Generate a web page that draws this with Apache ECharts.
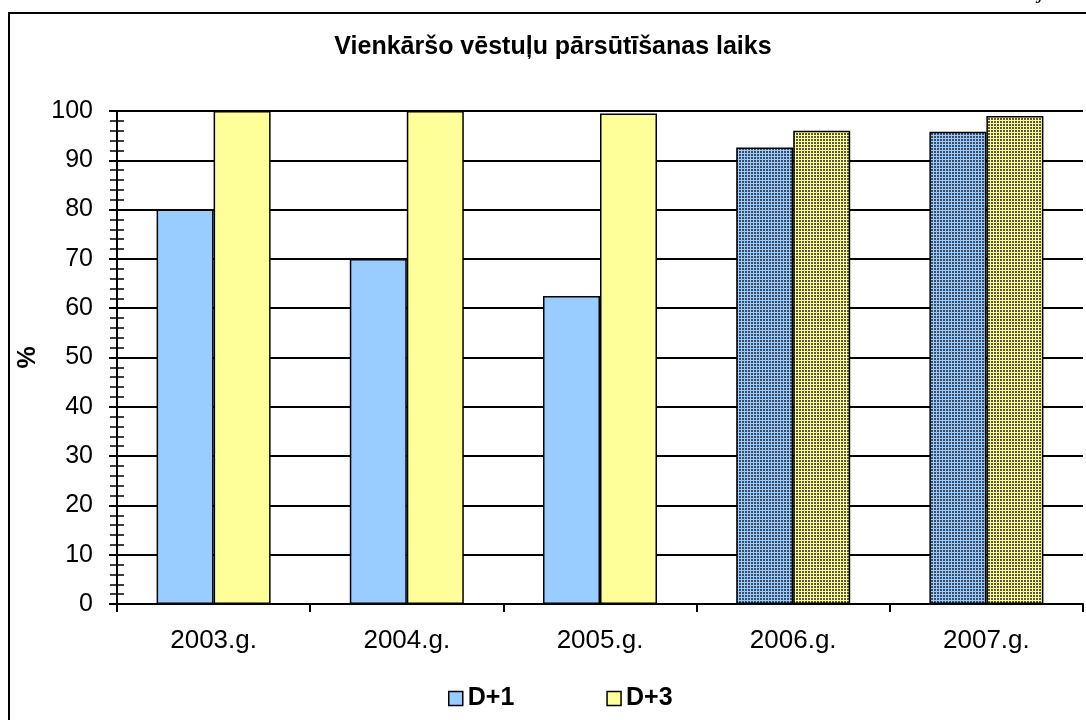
<!DOCTYPE html>
<html><head><meta charset="utf-8">
<script src="https://cdn.jsdelivr.net/npm/echarts@6/dist/echarts.min.js"></script>
<style>html,body{margin:0;padding:0;background:#fff}#c{width:1086px;height:720px}</style>
</head><body><div id="c"></div>
<script>
const categories = ['2003.g.', '2004.g.', '2005.g.', '2006.g.', '2007.g.'];
const seriesNames = ['D+1', 'D+3'];
const valuesD1 = [80, 70, 62.5, 92.6, 95.8];
const valuesD3 = [100, 100, 99.5, 96, 99];
const titleText = 'Vienkāršo vēstuļu pārsūtīšanas laiks';
const yName = '%';

function pattern(base, dot) {
  const c = document.createElement('canvas');
  c.width = 3; c.height = 3;
  const g = c.getContext('2d');
  g.fillStyle = base; g.fillRect(0, 0, 3, 3);
  g.fillStyle = dot; g.fillRect(1, 1, 2, 2);
  return { image: c, repeat: 'repeat' };
}
const blue = '#99CCFF', yellow = '#FFFF99';
const bluePat = pattern(blue, '#3c4a66');
const yellowPat = pattern(yellow, '#5a5a3a');
const patternFrom = 3;

function build(vals, base, pat) {
  return vals.map((v, i) => ({ value: v, itemStyle: { color: i >= patternFrom ? pat : base } }));
}

const FF = 'Liberation Sans, Arial, sans-serif';
const chart = echarts.init(document.getElementById('c'), null, { renderer: 'canvas' });
chart.setOption({
  animation: false,
  backgroundColor: '#fff',
  title: {
    text: titleText, left: 548, top: 30, textAlign: 'center',
    textStyle: { fontFamily: FF, fontSize: 25, fontWeight: 'bold', color: '#000' }
  },
  graphic: [
    { type: 'rect', shape: { x: 9, y: 13, width: 1100, height: 800 }, style: { fill: 'none', stroke: '#000', lineWidth: 2 }, silent: true, z: -1 },
    { type: 'text', x: 1038, y: -19, style: { text: 'j', font: 'italic 22px Liberation Serif', fill: '#000' }, silent: true }
  ],
  legend: {
    bottom: 4, left: 443, itemGap: 92, itemWidth: 14, itemHeight: 14,
    icon: 'rect',
    itemStyle: { borderColor: '#000', borderWidth: 1.5 },
    textStyle: { fontFamily: FF, fontSize: 25, fontWeight: 'bold', color: '#000' },
    data: seriesNames
  },
  grid: { left: 117, right: 3, top: 111, bottom: 116, containLabel: false },
  xAxis: {
    type: 'category', data: categories,
    axisLine: { lineStyle: { color: '#000', width: 2 } },
    axisTick: { show: true, length: 8, lineStyle: { color: '#000', width: 2 } },
    axisLabel: { margin: 24, fontFamily: FF, fontSize: 26, color: '#000' }
  },
  yAxis: [{
    type: 'value', min: 0, max: 100, interval: 10,
    name: yName, nameLocation: 'middle', nameRotate: 90, nameGap: 68,
    nameTextStyle: { fontFamily: FF, fontSize: 25, fontWeight: 'bold', color: '#000' },
    axisLine: { show: true, lineStyle: { color: '#000', width: 2 } },
    axisTick: { show: true, length: 8, lineStyle: { color: '#000', width: 2 } },
    minorTick: { show: true, splitNumber: 5, length: 7, lineStyle: { color: '#000', width: 1.5 } },
    splitLine: { show: true, lineStyle: { color: '#000', width: 2 } },
    axisLabel: { margin: 24, fontFamily: FF, fontSize: 25, color: '#000' }
  }, {
    type: 'value', min: 0, max: 100, interval: 10, position: 'left',
    axisLine: { show: false },
    axisTick: { show: true, inside: true, length: 7, lineStyle: { color: '#000', width: 1.5 } },
    minorTick: { show: true, splitNumber: 5, length: 7, lineStyle: { color: '#000', width: 1.5 } },
    splitLine: { show: false },
    axisLabel: { show: false }
  }],
  series: [
    {
      name: seriesNames[0], type: 'bar', data: build(valuesD1, blue, bluePat),
      barWidth: 57, barGap: '0%',
      itemStyle: { color: blue, borderColor: '#000', borderWidth: 1.5 }
    },
    {
      name: seriesNames[1], type: 'bar', data: build(valuesD3, yellow, yellowPat),
      barWidth: 57, barGap: '0%',
      itemStyle: { color: yellow, borderColor: '#000', borderWidth: 1.5 }
    }
  ]
});
</script>
</body></html>
